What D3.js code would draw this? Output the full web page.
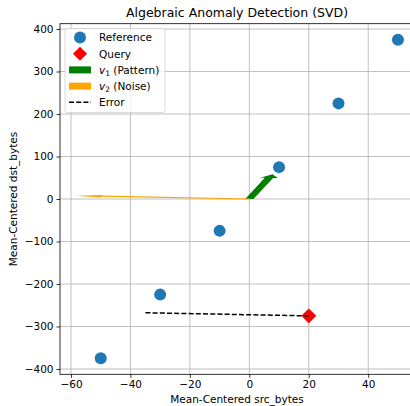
<!DOCTYPE html>
<html>
<head>
<meta charset="utf-8">
<script src="https://cdn.jsdelivr.net/npm/d3@7"></script>
<style>
  body { margin: 0; background: #fff; }
  svg { display: block; font-family: "DejaVu Sans", sans-serif; }
</style>
</head>
<body>
<div id="chart"></div>
<script>
// reference points (mean-centered)
const refX = [-50, -30, -10, 10, 30, 50];
const refY = [-375, -225, -75, 75, 225, 375];
// query point
const query = [20, -275];
// singular vectors
const v1 = [0.1322, 0.9912];
const v2 = [-0.9912, 0.1322];
const arrowScale = 50;
const xTicks = [-60, -40, -20, 0, 20, 40];
const yTicks = [-400, -300, -200, -100, 0, 100, 200, 300, 400];
const legendLabels = ["Reference", "Query", "v1", "v2", "Error"];

const W = 410, H = 406;
const M = { top: 23.7, left: 60, right: 414, bottom: 374.3 };

const svg = d3.select('#chart').append('svg')
  .attr('width', W)
  .attr('height', H);

const x = d3.scaleLinear().domain([-63.7, 55.4]).range([M.left, M.right]);
const y = d3.scaleLinear().domain([-412.5, 412.5]).range([M.bottom, M.top]);

svg.append('clipPath').attr('id', 'clip')
  .append('rect')
  .attr('x', M.left).attr('y', M.top)
  .attr('width', M.right - M.left).attr('height', M.bottom - M.top);

// grid
const grid = svg.append('g').attr('clip-path', 'url(#clip)');
grid.selectAll('.gx').data(xTicks).enter().append('line')
  .attr('x1', d => x(d)).attr('x2', d => x(d))
  .attr('y1', M.top).attr('y2', M.bottom)
  .attr('stroke', '#b0b0b0').attr('stroke-width', 0.8);
grid.selectAll('.gy').data(yTicks).enter().append('line')
  .attr('y1', d => y(d)).attr('y2', d => y(d))
  .attr('x1', M.left).attr('x2', M.right)
  .attr('stroke', '#b0b0b0').attr('stroke-width', 0.8);

// axes
const fmt = d => d < 0 ? '\u2212' + Math.abs(d) : d;
const xAxis = svg.append('g')
  .attr('transform', `translate(0, ${M.bottom})`)
  .call(d3.axisBottom(x).tickValues(xTicks).tickSize(3.5).tickPadding(3).tickFormat(fmt));
const yAxis = svg.append('g')
  .attr('transform', `translate(${M.left}, 0)`)
  .call(d3.axisLeft(y).tickValues(yTicks).tickSize(3.5).tickPadding(3).tickFormat(fmt));
[xAxis, yAxis].forEach(a => {
  a.select('.domain').remove();
  a.selectAll('text').attr('font-size', 10.5).attr('fill', '#000').attr('font-family', '"DejaVu Sans", sans-serif');
  a.selectAll('line').attr('stroke', '#000').attr('stroke-width', 0.8);
});

const plot = svg.append('g').attr('clip-path', 'url(#clip)');

// FancyArrow-like polygon in data units
function arrowPoly(dir, len, width, headW, headL) {
  const total = len + headL;
  const px = [-dir[1], dir[0]];
  const pt = (a, b) => [dir[0] * a + px[0] * b, dir[1] * a + px[1] * b];
  const pts = [
    pt(0, width / 2), pt(total - headL, width / 2), pt(total - headL, headW / 2),
    pt(total, 0),
    pt(total - headL, -headW / 2), pt(total - headL, -width / 2), pt(0, -width / 2)
  ];
  return pts.map(p => [x(p[0]), y(p[1])].join(',')).join(' ');
}

// reference points
plot.selectAll('circle.ref').data(refX).enter().append('circle')
  .attr('class', 'ref')
  .attr('cx', d => x(d))
  .attr('cy', (d, i) => y(refY[i]))
  .attr('r', 6)
  .attr('fill', '#1f77b4');

// query
plot.append('path')
  .attr('d', d3.symbol().type(d3.symbolSquare).size(112)())
  .attr('transform', `translate(${x(query[0])}, ${y(query[1])}) rotate(45)`)
  .attr('fill', 'red');

// arrows
plot.append('polygon')
  .attr('points', arrowPoly(v1, arrowScale, 2.8, 6, 9))
  .attr('fill', 'green');
plot.append('polygon')
  .attr('points', arrowPoly(v2, arrowScale, 2.8, 6, 9))
  .attr('fill', 'orange');

// projection of query onto v1 -> error line
const t = query[0] * v1[0] + query[1] * v1[1];
const proj = [t * v1[0], t * v1[1]];
plot.append('line')
  .attr('x1', x(query[0])).attr('y1', y(query[1]))
  .attr('x2', x(proj[0])).attr('y2', y(proj[1]))
  .attr('stroke', '#000').attr('stroke-width', 1.5)
  .attr('stroke-dasharray', '5,2.2');

// spines
svg.append('rect')
  .attr('x', M.left).attr('y', M.top)
  .attr('width', M.right - M.left).attr('height', M.bottom - M.top)
  .attr('fill', 'none').attr('stroke', '#000').attr('stroke-width', 0.8);

// title and labels
svg.append('text')
  .attr('x', (M.left + M.right) / 2).attr('y', 17)
  .attr('text-anchor', 'middle').attr('font-size', 12.5)
  .text('Algebraic Anomaly Detection (SVD)');
svg.append('text')
  .attr('x', (M.left + M.right) / 2).attr('y', 403)
  .attr('text-anchor', 'middle').attr('font-size', 10.5)
  .text('Mean-Centered src_bytes');
svg.append('text')
  .attr('transform', `translate(16.5, ${y(0)}) rotate(-90)`)
  .attr('text-anchor', 'middle').attr('font-size', 10.5)
  .text('Mean-Centered dst_bytes');

// legend
const legend = svg.append('g');
legend.append('rect')
  .attr('x', 65).attr('y', 28.5)
  .attr('width', 100).attr('height', 84)
  .attr('rx', 2.5)
  .attr('fill', 'rgba(255,255,255,0.8)')
  .attr('stroke', '#d0d0d0').attr('stroke-width', 0.8);

legendLabels.forEach((label, i) => {
  const cy = 37.5 + i * 16.2;
  const row = legend.append('g');
  if (i === 0) {
    row.append('circle').attr('cx', 80).attr('cy', cy).attr('r', 6).attr('fill', '#1f77b4');
  } else if (i === 1) {
    row.append('path')
      .attr('d', d3.symbol().type(d3.symbolSquare).size(100)())
      .attr('transform', `translate(80, ${cy}) rotate(45)`)
      .attr('fill', 'red');
  } else if (i === 2 || i === 3) {
    row.append('rect').attr('x', 69).attr('y', cy - 3.5).attr('width', 22).attr('height', 7)
      .attr('fill', i === 2 ? 'green' : 'orange');
  } else {
    row.append('line').attr('x1', 69).attr('x2', 91).attr('y1', cy).attr('y2', cy)
      .attr('stroke', '#000').attr('stroke-width', 1.5).attr('stroke-dasharray', '5,2.2');
  }
  const txt = row.append('text').attr('x', 99).attr('y', cy + 3.8).attr('font-size', 10.5);
  if (i === 2 || i === 3) {
    txt.append('tspan').attr('font-style', 'italic').text('v');
    txt.append('tspan').attr('font-size', 7.5).attr('dy', 2).text(i === 2 ? '1' : '2');
    txt.append('tspan').attr('dy', -2).text(i === 2 ? ' (Pattern)' : ' (Noise)');
  } else {
    txt.text(label);
  }
});
</script>
</body>
</html>
